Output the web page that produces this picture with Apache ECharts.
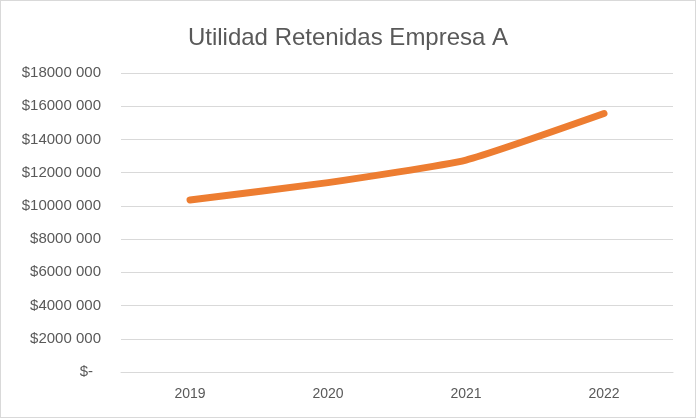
<!DOCTYPE html>
<html>
<head>
<meta charset="utf-8">
<script src="https://cdn.jsdelivr.net/npm/echarts@6/dist/echarts.min.js"></script>
<style>
  html, body { margin: 0; padding: 0; background: #fff; }
  #chart { width: 696px; height: 418px; box-sizing: border-box; border: 1px solid #d9d9d9; }
</style>
</head>
<body>
<div id="chart"></div>
<script>
  // datos
  var years = ['2019', '2020', '2021', '2022'];
  var utilidad = [10360000, 11400000, 12760000, 15560000];

  var chart = echarts.init(document.getElementById('chart'));

  function fmtPeso(v) {
    if (v === 0) return '{cero|$-}';
    return '$' + (v / 1000) + ' 000';
  }

  chart.setOption({
    backgroundColor: '#fff',
    animation: false,
    title: {
      text: 'Utilidad Retenidas Empresa A',
      left: 'center',
      top: 20,
      textStyle: {
        fontFamily: 'Liberation Sans',
        fontSize: 24,
        fontWeight: 'normal',
        color: '#595959'
      }
    },
    grid: { left: 120, right: 22, top: 72, bottom: 45 },
    xAxis: {
      type: 'category',
      data: years,
      boundaryGap: true,
      axisLine: { lineStyle: { color: '#d9d9d9' } },
      axisTick: { show: false },
      axisLabel: { color: '#595959', fontFamily: 'Liberation Sans', fontSize: 14, margin: 15 }
    },
    yAxis: {
      type: 'value',
      min: 0,
      max: 18000000,
      interval: 2000000,
      axisLine: { show: false },
      axisTick: { show: false },
      splitLine: { lineStyle: { color: '#d9d9d9' } },
      axisLabel: {
        color: '#595959',
        fontFamily: 'Liberation Sans',
        fontSize: 15,
        margin: 20,
        formatter: fmtPeso,
        rich: {
          cero: { color: '#595959', fontFamily: 'Liberation Sans', fontSize: 15, padding: [0, 8, 0, 0] }
        }
      }
    },
    series: [{
      type: 'line',
      data: utilidad,
      smooth: 0.15,
      symbol: 'none',
      lineStyle: { color: '#ED7D31', width: 7, cap: 'round', join: 'round' }
    }]
  });
</script>
</body>
</html>
